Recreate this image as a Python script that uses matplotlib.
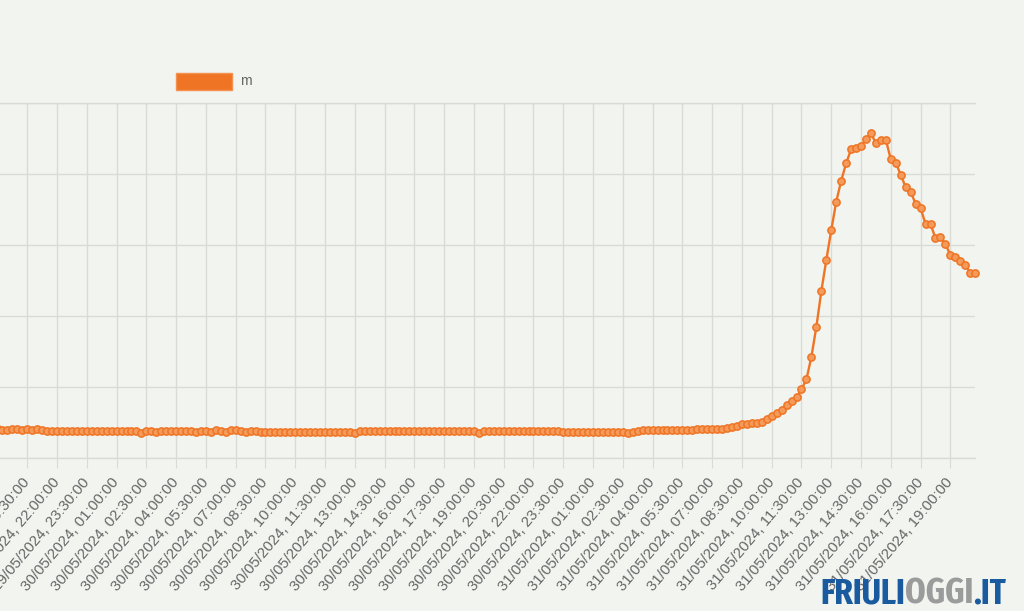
import matplotlib
matplotlib.use("Agg")
import matplotlib.pyplot as plt
import pandas as pd
from matplotlib import font_manager
from matplotlib.font_manager import FontProperties
from matplotlib.patches import Rectangle
from matplotlib.transforms import ScaledTranslation

# livello idrometrico (m), una lettura ogni 15 minuti dal 29/05/2024 19:00
start = "2024-05-29 19:00"
level = [
    0.408, 0.401, 0.394, 0.408, 0.415, 0.401, 0.415, 0.394, 0.415, 0.401,
    0.380, 0.380, 0.380, 0.387, 0.380, 0.380, 0.380, 0.380, 0.380, 0.380,
    0.380, 0.380, 0.380, 0.380, 0.380, 0.380, 0.387, 0.380, 0.380, 0.359,
    0.380, 0.387, 0.366, 0.387, 0.387, 0.387, 0.387, 0.387, 0.387, 0.387,
    0.366, 0.387, 0.387, 0.373, 0.394, 0.387, 0.373, 0.394, 0.401, 0.387,
    0.366, 0.387, 0.380, 0.373, 0.373, 0.373, 0.373, 0.373, 0.373, 0.373,
    0.373, 0.373, 0.373, 0.373, 0.373, 0.373, 0.373, 0.373, 0.373, 0.373,
    0.373, 0.373, 0.352, 0.380, 0.380, 0.380, 0.380, 0.380, 0.380, 0.380,
    0.380, 0.380, 0.380, 0.380, 0.380, 0.380, 0.380, 0.380, 0.380, 0.380,
    0.380, 0.380, 0.380, 0.380, 0.380, 0.380, 0.380, 0.359, 0.380, 0.380,
    0.380, 0.380, 0.380, 0.380, 0.380, 0.380, 0.380, 0.387, 0.387, 0.387,
    0.387, 0.387, 0.387, 0.387, 0.366, 0.373, 0.373, 0.373, 0.373, 0.373,
    0.373, 0.373, 0.373, 0.373, 0.373, 0.373, 0.373, 0.352, 0.373, 0.387,
    0.394, 0.394, 0.394, 0.394, 0.394, 0.394, 0.401, 0.401, 0.401, 0.401,
    0.401, 0.408, 0.408, 0.408, 0.413, 0.413, 0.413, 0.427, 0.441, 0.455,
    0.475, 0.479, 0.489, 0.489, 0.511, 0.554, 0.592, 0.630, 0.676, 0.746,
    0.807, 0.855, 0.968, 1.108, 1.427, 1.849, 2.352, 2.789, 3.211, 3.610,
    3.906, 4.151, 4.348, 4.362, 4.394, 4.489, 4.573, 4.432, 4.479, 4.479,
    4.207, 4.159, 3.986, 3.813, 3.751, 3.577, 3.517, 3.296, 3.296, 3.094,
    3.108, 3.014, 2.859, 2.835, 2.779, 2.718, 2.610, 2.610,
]
y_ticks = [0, 1, 2, 3, 4, 5]
series_name = "m"

times = pd.date_range(start, periods=len(level), freq="15min")
tick_idx = list(range(6, len(level), 6))
tick_labels = [times[i].strftime("%d/%m/%Y, %H:%M:%S") for i in tick_idx]

bg = "#f1f4ef"
grid_c = "#d8dbd6"
orange = "#ef7424"
label_font = ["Liberation Sans", "DejaVu Sans"]

W, H = 1024, 611
fig = plt.figure(figsize=(W / 100, H / 100), dpi=100, facecolor=bg)
# area del grafico (in pixel): da x=-2.5 a 975, da y=103 a 458
ax = fig.add_axes([-2.5 / W, (H - 458) / H, 977.7 / W, 355 / H], facecolor=bg)

x = list(range(len(level)))
ax.plot(x, level, color=orange, lw=1.7, marker="o", ms=5.2,
        mfc="#f49a5a", mec=orange, mew=1.1, clip_on=False, zorder=3)

ax.set_xlim(0, len(level) - 1)
ax.set_ylim(y_ticks[0], y_ticks[-1])
ax.set_yticks(y_ticks)
ax.set_xticks(tick_idx)
ax.set_xticklabels(tick_labels, rotation=50, ha="right", va="center",
                   rotation_mode="anchor", color="#666666", fontsize=10.8,
                   family=label_font)
offset = ScaledTranslation(0.01, 0, fig.dpi_scale_trans)
for lab in ax.get_xticklabels():
    lab.set_transform(lab.get_transform() + offset)

ax.grid(True, color=grid_c, lw=1)
ax.tick_params(axis="x", length=7.2, width=0.8, color=grid_c, pad=8.5)
ax.tick_params(axis="y", length=0, labelleft=False)
for side in ["left", "right"]:
    ax.spines[side].set_visible(False)
for side in ["top", "bottom"]:
    ax.spines[side].set_color(grid_c)
    ax.spines[side].set_linewidth(1)

# legenda
fig.patches.append(Rectangle((176 / W, (H - 90) / H), 56 / W, 17 / H,
                             transform=fig.transFigure, facecolor=orange,
                             edgecolor="#f39250", lw=1))
fig.text(240 / W, (H - 81) / H, series_name, color="#666666", fontsize=10,
         va="center", ha="left", family=label_font)


# logo: cerca un carattere stretto e grassetto, se c'è
def narrow_font():
    best = None
    for f in font_manager.fontManager.ttflist:
        name = f.fname.replace("-", "").replace("_", "").lower()
        if "bold" not in name or "italic" in name or "semibold" in name \
                or "extrabold" in name:
            continue
        for rank, key in enumerate(["extracondensed", "condensed", "narrow"]):
            if key in name and (best is None or rank < best[0]):
                best = (rank, f.fname)
                break
    if best:
        return FontProperties(fname=best[1])
    return FontProperties(family="DejaVu Sans", weight="bold")


wm_prop = narrow_font()
parts = [("FRIULI", "#1a5a9e"), ("OGGI", "#9b9b9b"), (".IT", "#1a5a9e")]
wm = [fig.text(0, 7.5 / H, s, color=c, fontproperties=wm_prop.copy(),
               ha="left", va="baseline", zorder=10) for s, c in parts]
for t in wm:
    t.set_fontsize(30)
fig.canvas.draw()
r = fig.canvas.get_renderer()
total = sum(t.get_window_extent(r).width for t in wm)
size = min(33, 30 * 186 / total)
for t in wm:
    t.set_fontsize(size)
fig.canvas.draw()
widths = [t.get_window_extent(r).width for t in wm]
xpos = 1006 - sum(widths)
for t, w in zip(wm, widths):
    t.set_x(xpos / W)
    xpos += w

fig.savefig("out.png", dpi=100, facecolor=bg)
